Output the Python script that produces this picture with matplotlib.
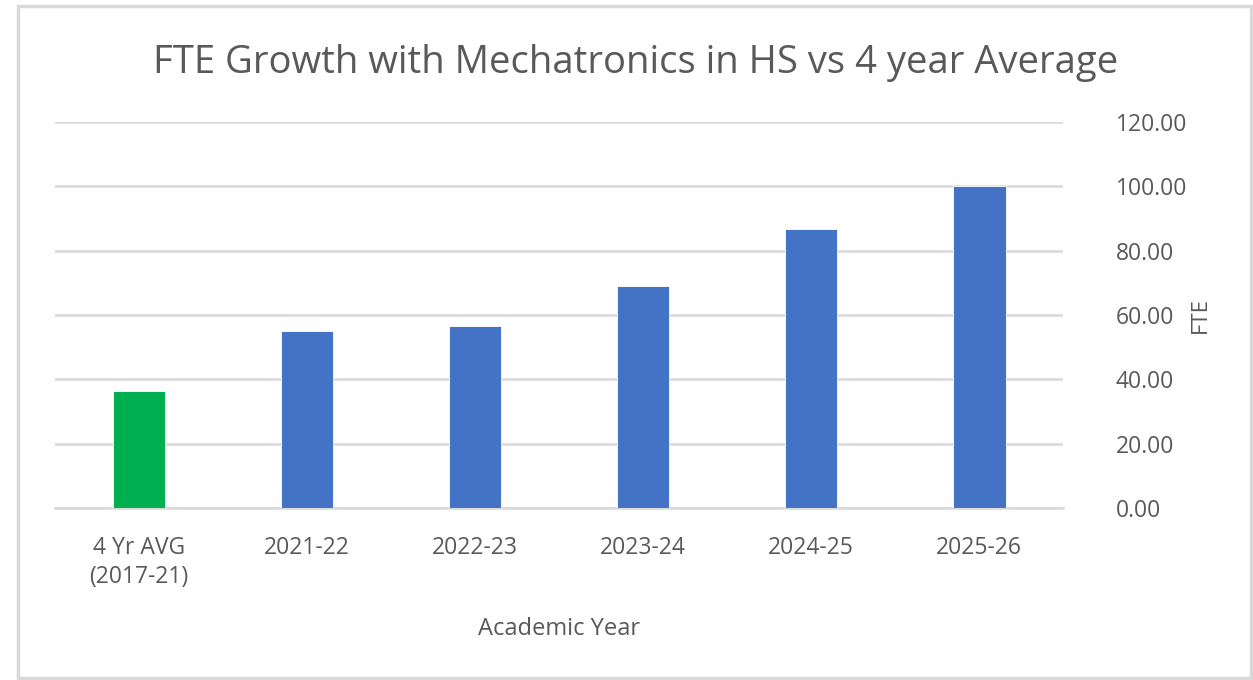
import matplotlib.pyplot as plt
from matplotlib.patches import Rectangle

# data
categories = ["4 Yr AVG\n(2017-21)", "2021-22", "2022-23", "2023-24", "2024-25", "2025-26"]
fte_values = [36.4, 55.0, 56.5, 69.1, 86.8, 100.2]
bar_colors = ["#00B050", "#4472C4", "#4472C4", "#4472C4", "#4472C4", "#4472C4"]
y_ticks = [0, 20, 40, 60, 80, 100, 120]

TEXT = "#595959"
GRID = "#D9D9D9"

plt.rcParams["font.family"] = ["Open Sans", "DejaVu Sans"]

fig = plt.figure(figsize=(12.53, 6.8), dpi=100)
ax = fig.add_axes([0.0439, 0.2529, 0.8045, 0.5677])

# outer chart border
fig.patches.append(Rectangle((0.0145, 0.003), 0.984, 0.988, transform=fig.transFigure,
                             fill=False, edgecolor="#D9D9D9", linewidth=2.5))

x = range(len(categories))
ax.bar(x, fte_values, width=0.315, color=bar_colors, edgecolor="white",
       linewidth=0.6, zorder=3)

ax.set_xlim(-0.5, len(categories) - 0.5)
ax.set_ylim(0, 120)
ax.set_yticks(y_ticks)
ax.set_yticklabels([f"{v:.2f}" for v in y_ticks])
ax.yaxis.tick_right()
ax.yaxis.set_label_position("right")
ax.grid(axis="y", color=GRID, linewidth=1.8, zorder=0)
ax.set_axisbelow(True)

for s in ["top", "left", "right"]:
    ax.spines[s].set_visible(False)
ax.spines["bottom"].set_color(GRID)
ax.spines["bottom"].set_linewidth(1.8)

ax.set_xticks(list(x))
ax.set_xticklabels(categories, linespacing=1.3)
ax.tick_params(axis="x", length=0, pad=20, labelsize=16.5, labelcolor=TEXT)
ax.tick_params(axis="y", length=0, pad=38, labelsize=16.5, labelcolor=TEXT)
for lbl in ax.get_yticklabels():
    lbl.set_horizontalalignment("left")

ax.set_xlabel("Academic Year", fontsize=17, color=TEXT, labelpad=20)
ax.set_ylabel("FTE", fontsize=16, color=TEXT, labelpad=2)

fig.suptitle("FTE Growth with Mechatronics in HS vs 4 year Average",
             fontsize=27.5, color=TEXT, x=0.507, y=0.935)

fig.savefig("out.png", dpi=100, facecolor="white")
